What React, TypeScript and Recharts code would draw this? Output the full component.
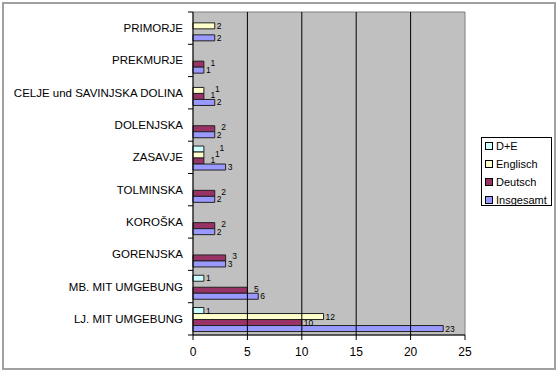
import {
  BarChart,
  Bar,
  XAxis,
  YAxis,
  ReferenceArea,
  ReferenceLine,
  LabelList,
} from "recharts";

const regions = [
  "PRIMORJE",
  "PREKMURJE",
  "CELJE und SAVINJSKA DOLINA",
  "DOLENJSKA",
  "ZASAVJE",
  "TOLMINSKA",
  "KOROŠKA",
  "GORENJSKA ",
  "MB. MIT UMGEBUNG",
  "LJ. MIT UMGEBUNG",
];

// null = no bar, no label
const dPlusE = [null, null, null, null, 1, null, null, null, 1, 1];
const englisch = [2, null, 1, null, 1, null, null, null, null, 12];
const deutsch = [null, 1, 1, 2, 1, 2, 2, 3, 5, 10];
const insgesamt = [2, 1, 2, 2, 3, 2, 2, 3, 6, 23];

const xTicks = [0, 5, 10, 15, 20, 25];
const gridValues = [5, 10, 15, 20];

const series = [
  { key: "de", name: "D+E", color: "#CCFFFF" },
  { key: "en", name: "Englisch", color: "#FFFFCC" },
  { key: "deu", name: "Deutsch", color: "#993366" },
  { key: "all", name: "Insgesamt", color: "#9999FF" },
];

const data = regions.map((name, i) => ({
  name,
  de: dPlusE[i],
  en: englisch[i],
  deu: deutsch[i],
  all: insgesamt[i],
}));

const FONT = "'Liberation Sans', Arial, sans-serif";
const PLOT_TOP = 12;
const PLOT_BOTTOM = 335;
const BAND = (PLOT_BOTTOM - PLOT_TOP) / regions.length;

function CategoryTick(props: any) {
  const { x, y, payload, index } = props;
  return (
    <g>
      <text
        x={x - 10}
        y={y}
        dy={4}
        textAnchor="end"
        fontSize={11.5}
        fontFamily={FONT}
        fill="#000"
      >
        {payload.value}
      </text>
      <line x1={x - 5} x2={x} y1={y + BAND / 2} y2={y + BAND / 2} stroke="#000" />
      {index === 0 && (
        <line x1={x - 5} x2={x} y1={y - BAND / 2} y2={y - BAND / 2} stroke="#000" />
      )}
    </g>
  );
}

// Excel nudges crowded labels to the right/up when the short bars below also carry labels
function makeValueLabel(seriesIdx: number) {
  return function ValueLabel(props: any) {
    const { x, y, width, height, value } = props;
    if (value == null) return null;
    const rowIdx = Math.min(
      regions.length - 1,
      Math.max(0, Math.floor((y + height / 2 - PLOT_TOP) / BAND))
    );
    const row: any = data[rowIdx];
    let n = 0;
    if (value < 10) {
      for (let k = seriesIdx + 1; k < series.length; k++) {
        const v = row[series[k].key];
        if (v == null || v >= 10) break;
        n++;
      }
    }
    const dx = 2 + 4.5 * n;
    const dy = n > 0 ? -1.5 : 0;
    return (
      <text
        x={x + width + dx}
        y={y + height / 2 + dy}
        dy={3}
        fontSize={8.5}
        fontFamily={FONT}
        fill="#000"
      >
        {value}
      </text>
    );
  };
}

function LegendBox() {
  return (
    <div
      style={{
        position: "absolute",
        left: 481,
        top: 137,
        width: 71,
        height: 69,
        border: "1px solid #000",
        background: "#fff",
        fontFamily: FONT,
        fontSize: 11,
        boxSizing: "border-box",
      }}
    >
      {series.map((s, i) => (
        <div
          key={s.key}
          style={{
            position: "absolute",
            left: 3,
            top: [1, 19, 37, 55][i],
            height: 14,
            lineHeight: "14px",
            display: "flex",
            alignItems: "center",
            whiteSpace: "nowrap",
          }}
        >
          <span
            style={{
              width: 6,
              height: 6,
              border: "1px solid #000",
              background: s.color,
              marginRight: 3,
              flexShrink: 0,
            }}
          />
          {s.name}
        </div>
      ))}
    </div>
  );
}

export default function App() {
  return (
    <div
      style={{
        position: "absolute",
        left: 0,
        top: 0,
        width: 560,
        height: 376,
        background: "#fff",
      }}
    >
      <div
        style={{
          position: "absolute",
          left: 2,
          top: 2,
          width: 554,
          height: 368,
          border: "2px solid #a0a0a0",
          boxSizing: "border-box",
        }}
      />
      <BarChart
        width={560}
        height={376}
        data={data}
        layout="vertical"
        margin={{ top: PLOT_TOP, right: 95, left: 0, bottom: 0 }}
        barCategoryGap="15%"
        barGap={0}
        style={{ position: "absolute", left: 0, top: 0 }}
      >
        <ReferenceArea
          x1={0}
          x2={25}
          fill="#C0C0C0"
          fillOpacity={1}
          stroke="#808080"
          ifOverflow="visible"
        />
        {gridValues.map((v) => (
          <ReferenceLine key={v} x={v} stroke="#000" strokeWidth={1} />
        ))}
        <XAxis
          type="number"
          domain={[0, 25]}
          ticks={xTicks}
          height={376 - PLOT_BOTTOM}
          axisLine={{ stroke: "#000" }}
          tickLine={{ stroke: "#000" }}
          tickSize={5}
          tickMargin={7}
          tick={{ fontSize: 12, fontFamily: FONT, fill: "#000" }}
        />
        <YAxis
          type="category"
          dataKey="name"
          width={193}
          axisLine={{ stroke: "#000" }}
          tickLine={false}
          tickSize={0}
          tickMargin={0}
          interval={0}
          tick={<CategoryTick />}
        />
        {series.map((s, si) => (
          <Bar
            key={s.key}
            dataKey={s.key}
            name={s.name}
            fill={s.color}
            stroke="#222"
            strokeWidth={1}
            isAnimationActive={false}
          >
            <LabelList dataKey={s.key} content={makeValueLabel(si)} />
          </Bar>
        ))}
      </BarChart>
      <LegendBox />
    </div>
  );
}
